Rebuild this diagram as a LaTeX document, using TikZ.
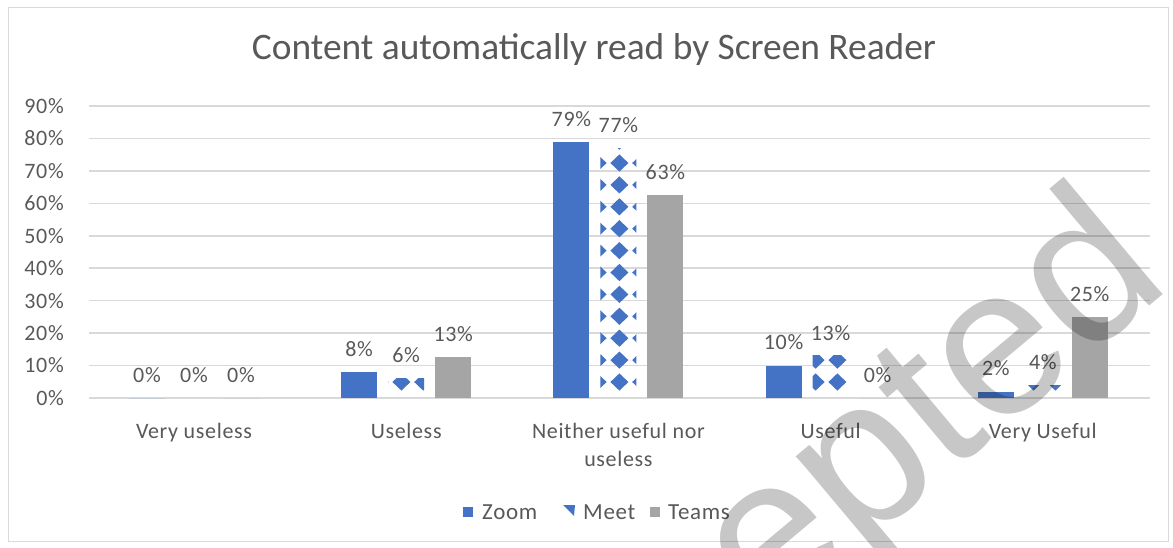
\documentclass[tikz,border=0pt]{standalone}
\usepackage{fontspec}
\setmainfont{Carlito}
\newfontfamily\lblfont[LetterSpace=3]{Carlito}
\newfontfamily\wmfont{Liberation Sans}
\definecolor{txt}{HTML}{595959}
\definecolor{gridc}{HTML}{D9D9D9}
\definecolor{zoomc}{HTML}{4472C4}
\definecolor{teamsc}{HTML}{A5A5A5}
\begin{document}
\begin{tikzpicture}[x=1pt,y=-1pt,
  gridline/.style={gridc, line width=1.5pt},
  ylab/.style={text=txt, font=\lblfont\fontsize{22}{24}\selectfont, anchor=east, inner sep=0pt},
  vlab/.style={text=txt, font=\lblfont\fontsize{22}{24}\selectfont, inner sep=0pt},
  catlab/.style={text=txt, font=\lblfont\fontsize{22}{28}\selectfont, anchor=north, inner sep=0pt, align=center},
  leglab/.style={text=txt, font=\lblfont\fontsize{23}{24}\selectfont, anchor=west, inner sep=0pt},
  titlelab/.style={text=txt, font=\fontsize{37.4}{40}\selectfont, inner sep=0pt},
  wmark/.style={text=black, text opacity=0.22, font=\wmfont\fontsize{212}{212}\selectfont, inner sep=0pt}]
\useasboundingbox (0,0) rectangle (1173,548);
\fill[white] (0,0) rectangle (1173,548);
\draw[gridc, line width=1pt] (8,8) rectangle (1168,541);
\node[titlelab] (title) at (594,50) {Content automatically read by Screen Reader};
% grid and y labels
\foreach \k in {0,...,9} {
  \pgfmathsetmacro\yy{398-32.44*\k}
  \pgfmathtruncatemacro\pc{10*\k}
  \draw[gridline] (89,\yy) -- (1150,\yy);
  \node[ylab] (y\k) at (64,\yy) {\pc\%};
}
% bars
\foreach \i/\z/\m/\t/\zl/\ml/\tl/\cat in {
  0/0/0/0/0/0/0/{Very useless},
  1/8/6/12.5/8/6/13/{Useless},
  2/79/77/62.5/79/77/63/{Neither useful nor\\useless},
  3/10/13/0/10/13/0/{Useful},
  4/2/4/25/2/4/25/{Very Useful}} {
  \pgfmathsetmacro\c{194+212.2*\i}
  \pgfmathsetmacro\ztop{398-3.244*\z}
  \pgfmathsetmacro\mtop{398-3.244*\m}
  \pgfmathsetmacro\ttop{398-3.244*\t}
  \fill[zoomc] (\c-65,398) rectangle (\c-29,\ztop);
  \fill[teamsc] (\c+29,398) rectangle (\c+65,\ttop);
  \begin{scope}
    \clip (\c-18,398) rectangle (\c+18,\mtop);
    \pgfmathtruncatemacro\n{round((\c-619.4)/21.8)}
    \foreach \dk in {-2,...,2} {
      \pgfmathsetmacro\dx{619.4+21.8*(\n+\dk)}
      \foreach \r in {0,...,11} {
        \pgfmathsetmacro\dy{382-21.9*\r}
        \fill[zoomc] (\dx-9,\dy) -- (\dx,\dy-8.6) -- (\dx+9,\dy) -- (\dx,\dy+8.6) -- cycle;
      }
    }
  \end{scope}
  \node[vlab] (zl\i) at (\c-47,\ztop-23) {\zl\%};
  \node[vlab] (ml\i) at (\c,\mtop-23) {\ml\%};
  \node[vlab] (tl\i) at (\c+47,\ttop-23) {\tl\%};
  \node[catlab] (cat\i) at (\c,423) {\cat};
}
% legend
\fill[zoomc] (463,507) rectangle (473,517);
\node[leglab] (lz) at (482,512) {Zoom};
\fill[zoomc] (563,505) -- (575,505) -- (574,516) -- cycle;
\node[leglab] (lm) at (583,512) {Meet};
\fill[teamsc] (650,507) rectangle (660,517);
\node[leglab] (lt) at (668,512) {Teams};
% watermark
\node[wmark, rotate=40, anchor=base east] (wm) at (1174,286) {Accepted};
\end{tikzpicture}
\end{document}
